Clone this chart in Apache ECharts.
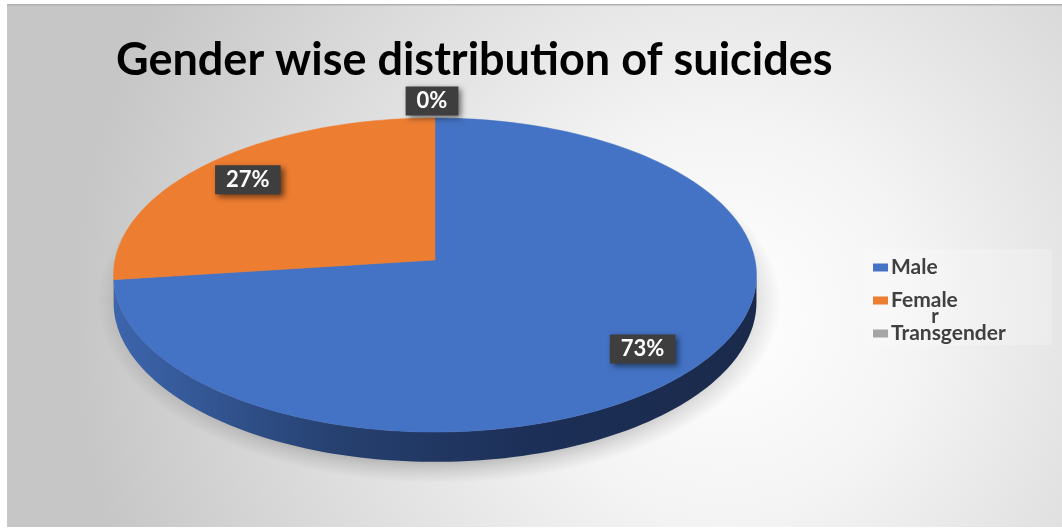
<!DOCTYPE html>
<html>
<head>
<meta charset="utf-8">
<script src="https://cdn.jsdelivr.net/npm/echarts@6/dist/echarts.min.js"></script>
<style>
  html, body { margin: 0; padding: 0; background: #ffffff; }
  #chart { width: 1062px; height: 529px; }
</style>
</head>
<body>
<div id="chart"></div>
<script>
// Share of suicides by gender (percent)
const categories = ['Male', 'Female', 'Transgender'];
const shares = [73, 27, 0];
const sliceColors = ['#4472c4', '#ed7d31', '#a5a5a5'];
const sideColors = [
  ['#3d65ad', '#26406f', '#1c2f57', '#1a2a4b'],
  ['#c8661f', '#a4521a', '#8e4616', '#7e3e13'],
  ['#8a8a8a', '#777777', '#6a6a6a', '#5f5f5f']
];

// Perspective disc geometry
const CX = 435, CY = 260, RX = 320, RY = 155.6, K = 0.0955, DEPTH = 27;
const DEG = Math.PI / 180;
const PHI_R = 90 + Math.asin(K) / DEG;   // right-most rim angle
const PHI_L = 270 - Math.asin(K) / DEG;  // left-most rim angle

// phi: degrees clockwise from 12 o'clock, r: fraction of radius, dz: drop below the top face
function proj(phi, r, dz) {
  const a = phi * DEG;
  const u = r * Math.sin(a), v = -r * Math.cos(a);
  const s = 1 / (1 - K * v);
  return [CX + RX * u * s, CY + RY * v * s + (dz || 0) * s];
}
function arc(p0, p1, r, dz) {
  const n = Math.max(2, Math.ceil(Math.abs(p1 - p0) / 1.5));
  const pts = [];
  for (let i = 0; i <= n; i++) pts.push(proj(p0 + (p1 - p0) * i / n, r, dz));
  return pts;
}

const total = shares.reduce((a, b) => a + b, 0);
let acc = 0;
const sliceData = shares.map(v => {
  const item = [acc / total, v / total];
  acc += v;
  return item;
});

function renderSlice(params, api) {
  const start = api.value(0), frac = api.value(1);
  const p0 = start * 360, p1 = (start + frac) * 360;
  const i = params.seriesIndex;
  const children = [];

  if (i === 0) {
    // soft shadow halo under the disc
    children.push({
      type: 'circle', z2: 0, silent: true,
      x: CX + 4, y: CY + 42, scaleY: 0.53,
      shape: { cx: 0, cy: 0, r: 342 },
      style: {
        fill: {
          type: 'radial', x: 0.5, y: 0.5, r: 0.5,
          colorStops: [
            { offset: 0, color: 'rgba(0,0,0,0.28)' },
            { offset: 0.86, color: 'rgba(0,0,0,0.24)' },
            { offset: 0.93, color: 'rgba(0,0,0,0.1)' },
            { offset: 1, color: 'rgba(0,0,0,0)' }
          ]
        }
      }
    });
  }

  if (frac > 0) {
    const a = Math.max(p0, PHI_R), b = Math.min(p1, PHI_L);
    if (b > a) {
      const side = arc(a, b, 1, 0).concat(arc(b, a, 1, DEPTH));
      const sc = sideColors[i];
      children.push({
        type: 'polygon', z2: 1,
        shape: { points: side },
        style: {
          fill: {
            type: 'linear', x: 0, y: 0, x2: 1, y2: 0,
            colorStops: [
              { offset: 0, color: sc[0] }, { offset: 0.35, color: sc[1] },
              { offset: 0.65, color: sc[2] }, { offset: 1, color: sc[3] }
            ]
          }
        }
      });
    }
    const top = [proj(0, 0, 0)].concat(arc(p0, p1, 1, 0));
    children.push({
      type: 'polygon', z2: 2,
      shape: { points: top },
      style: { fill: sliceColors[i], stroke: sliceColors[i], lineWidth: 0.5 }
    });
  }

  // percentage label
  const mid = (p0 + p1) / 2;
  let pos;
  if (frac < 0.02) {
    const rim = proj(mid, 1, 0);
    pos = [rim[0] - 3, rim[1] - 17];
  } else {
    pos = proj(mid, 0.82, 0);
  }
  children.push({
    type: 'text', z2: 10,
    x: pos[0], y: pos[1],
    style: {
      text: Math.round(frac * 100) + '%',
      fill: '#ffffff',
      font: 'bold 22px Lato, "Open Sans", sans-serif',
      align: 'center', verticalAlign: 'middle',
      backgroundColor: '#3e3e3e',
      padding: [4, 11, 3, 11],
      shadowBlur: 6, shadowColor: 'rgba(0,0,0,0.55)', shadowOffsetX: 3, shadowOffsetY: 3
    }
  });

  return { type: 'group', children: children };
}

const chart = echarts.init(document.getElementById('chart'), null, { renderer: 'canvas' });

chart.setOption({
  backgroundColor: '#ffffff',
  animation: false,
  title: {
    text: 'Gender wise distribution of suicides',
    left: 116, top: 34, padding: 0,
    textStyle: { fontSize: 45, fontWeight: 'bold', color: '#000000', fontFamily: 'Lato, "Open Sans", sans-serif', lineHeight: 52 }
  },
  legend: {
    data: categories,
    orient: 'vertical',
    left: 873, top: 257,
    padding: 0,
    itemWidth: 15, itemHeight: 8, itemGap: 12,
    icon: 'rect',
    selectedMode: false,
    textStyle: { fontSize: 21, fontWeight: 'bold', color: '#404040', fontFamily: 'Lato, "Open Sans", sans-serif', lineHeight: 21, padding: [0, 0, 0, -2] }
  },
  graphic: [
    {
      type: 'rect', z: -10, silent: true,
      shape: { x: 7, y: 5, width: 1055, height: 522 },
      style: {
        fill: {
          type: 'radial', x: 0.68, y: 0.6, r: 1.25,
          colorStops: [
            { offset: 0, color: '#ffffff' },
            { offset: 0.3, color: '#f4f4f4' },
            { offset: 1, color: '#c6c6c6' }
          ]
        }
      }
    },
    {
      type: 'rect', z: -9, silent: true,
      shape: { x: 7, y: 4, width: 1055, height: 1.5 },
      style: { fill: '#b0b0b0' }
    },
    {
      type: 'rect', z: -8, silent: true,
      shape: { x: 863, y: 249, width: 189, height: 96 },
      style: { fill: 'rgba(255,255,255,0.22)' }
    },
    {
      type: 'text', z: 5, silent: true,
      x: 935, y: 317,
      style: { text: 'r', fill: '#404040', font: 'bold 20px Lato, "Open Sans", sans-serif', align: 'center', verticalAlign: 'middle' }
    }
  ],
  series: categories.map((name, i) => ({
    type: 'custom',
    name: name,
    coordinateSystem: 'none',
    itemStyle: { color: sliceColors[i] },
    renderItem: renderSlice,
    data: [sliceData[i]]
  }))
});
</script>
</body>
</html>
